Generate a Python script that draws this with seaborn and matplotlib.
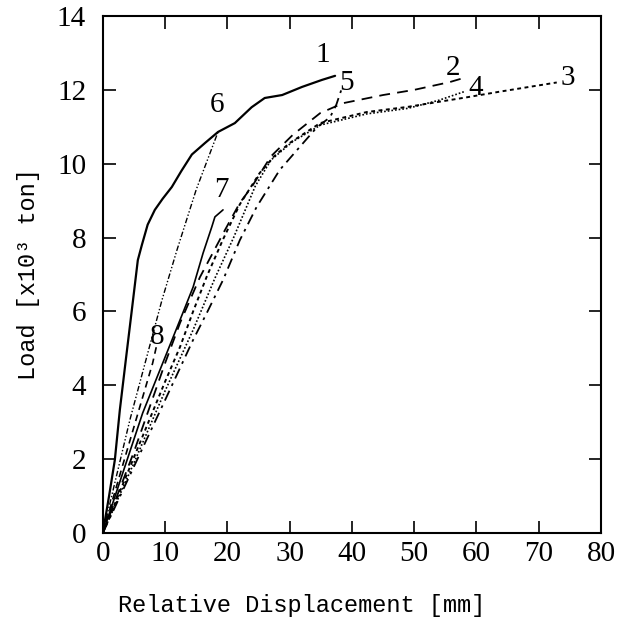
import matplotlib
matplotlib.use("Agg")
import matplotlib.pyplot as plt
import numpy as np
import pandas as pd
import seaborn as sns

# Load-displacement curves (x in mm, y in 10^3 ton)
c1_x = [0, 1.0, 1.93, 2.73, 3.7, 4.66, 5.62, 6.27, 7.2, 8.35, 9.6, 11.08, 12.6, 14.3, 16.4, 18.5, 21.2, 23.9, 26.0, 28.8, 32.0, 35.2, 37.3]
c1_y = [0, 1.0, 1.98, 3.33, 4.7, 6.04, 7.39, 7.8, 8.35, 8.75, 9.05, 9.37, 9.8, 10.25, 10.56, 10.86, 11.10, 11.53, 11.78, 11.86, 12.08, 12.27, 12.38]

c2_x = [0, 5, 10, 12.4, 15.6, 19.6, 22.0, 23.9, 27.0, 30.5, 34.9, 38.6, 45.0, 50.0, 55.7, 57.5]
c2_y = [0, 2.2, 4.6, 5.69, 6.93, 8.2, 8.94, 9.37, 10.2, 10.78, 11.37, 11.64, 11.86, 12.0, 12.21, 12.3]

c3_x = [0, 5, 10, 12.4, 14.5, 16.7, 19.3, 22.0, 25.2, 27.5, 30.0, 34.9, 42.4, 49.0, 58.5, 63.7, 72.9]
c3_y = [0, 2.05, 4.1, 5.04, 6.0, 6.95, 7.95, 8.9, 9.75, 10.2, 10.56, 11.10, 11.40, 11.54, 11.80, 11.95, 12.2]

c4_x = [0, 5, 10, 14.5, 18.0, 21.0, 24.5, 27.0, 30.5, 35.0, 42.4, 49.0, 54.0, 58.0]
c4_y = [0, 1.9, 3.85, 5.5, 6.9, 8.0, 9.4, 10.1, 10.6, 11.05, 11.35, 11.5, 11.72, 11.95]

c5_x = [0, 5, 10, 14.5, 16.7, 19.3, 22.0, 24.7, 28.4, 31.6, 34.4, 36.5, 37.5, 38.3]
c5_y = [0, 1.8, 3.6, 5.23, 5.96, 6.85, 7.93, 8.83, 9.83, 10.45, 10.99, 11.26, 11.6, 12.0]

c6_x = [0, 4.34, 9.5, 11.9, 15.0, 18.5]
c6_y = [0, 3.06, 6.31, 7.66, 9.3, 10.86]

c7_x = [0, 6.4, 12.85, 14.5, 16.1, 17.5, 18.0, 19.3]
c7_y = [0, 3.25, 5.96, 6.66, 7.58, 8.29, 8.56, 8.75]

c8_x = [0, 4.0, 8.0, 8.6]
c8_y = [0, 2.3, 4.6, 5.05]

curve_names = ["1", "2", "3", "4", "5", "6", "7", "8"]
label_x = [35.3, 56.2, 74.7, 59.8, 39.2, 18.3, 19.0, 8.8]
label_y = [12.94, 12.59, 12.32, 12.05, 12.18, 11.59, 9.29, 5.31]

curves = [(c1_x, c1_y), (c2_x, c2_y), (c3_x, c3_y), (c4_x, c4_y),
          (c5_x, c5_y), (c6_x, c6_y), (c7_x, c7_y), (c8_x, c8_y)]

styles = {
    "1": ("-", 1.6),
    "2": ((0, (6, 4)), 1.3),
    "3": ((0, (2, 1.8)), 1.4),
    "4": ((0, (1, 1.2)), 1.2),
    "5": ((0, (6, 3, 1.5, 3)), 1.3),
    "6": ((0, (4, 1.5, 1, 1.5, 1, 1.5)), 1.0),
    "7": ("-", 1.2),
    "8": ((0, (4, 3)), 1.2),
}

serif = ["Liberation Serif", "DejaVu Serif"]

sns.set_style("ticks")
plt.rcParams["font.family"] = ["Liberation Mono", "DejaVu Sans Mono"]
plt.rcParams["text.color"] = "black"
plt.rcParams["axes.labelcolor"] = "black"
plt.rcParams["xtick.color"] = "black"
plt.rcParams["ytick.color"] = "black"

fig = plt.figure(figsize=(6.27, 6.35), dpi=100)
ax = fig.add_axes([0.164, 0.1606, 0.7945, 0.8142])

for name, (xs, ys) in zip(curve_names, curves):
    df = pd.DataFrame({"disp": xs, "load": ys})
    ls, lw = styles[name]
    sns.lineplot(data=df, x="disp", y="load", ax=ax, color="black",
                 linestyle=ls, linewidth=lw, sort=False, estimator=None)

for name, lx, ly in zip(curve_names, label_x, label_y):
    ax.text(lx, ly, name, fontsize=21, ha="center", va="center",
            family=serif, color="black")

ax.set_xlim(0, 80)
ax.set_ylim(0, 14)
ax.set_xticks(np.arange(0, 81, 10))
ax.set_yticks(np.arange(0, 15, 2))
ax.tick_params(direction="in", top=True, right=True, length=9, width=1.2,
               colors="black")
ax.tick_params(axis="x", pad=6)
ax.tick_params(axis="y", pad=12)
for lab in ax.get_xticklabels() + ax.get_yticklabels():
    lab.set_family(serif)
    lab.set_fontsize(21)
for sp in ax.spines.values():
    sp.set_linewidth(1.5)
    sp.set_color("black")

ax.set_xlabel("Relative Displacement [mm]", fontsize=17, va="top", color="black")
ax.xaxis.set_label_coords(0.4, -0.118)
ax.set_ylabel("Load [x10³ ton]", fontsize=17, labelpad=12, color="black")

fig.savefig("out.png", dpi=100)
